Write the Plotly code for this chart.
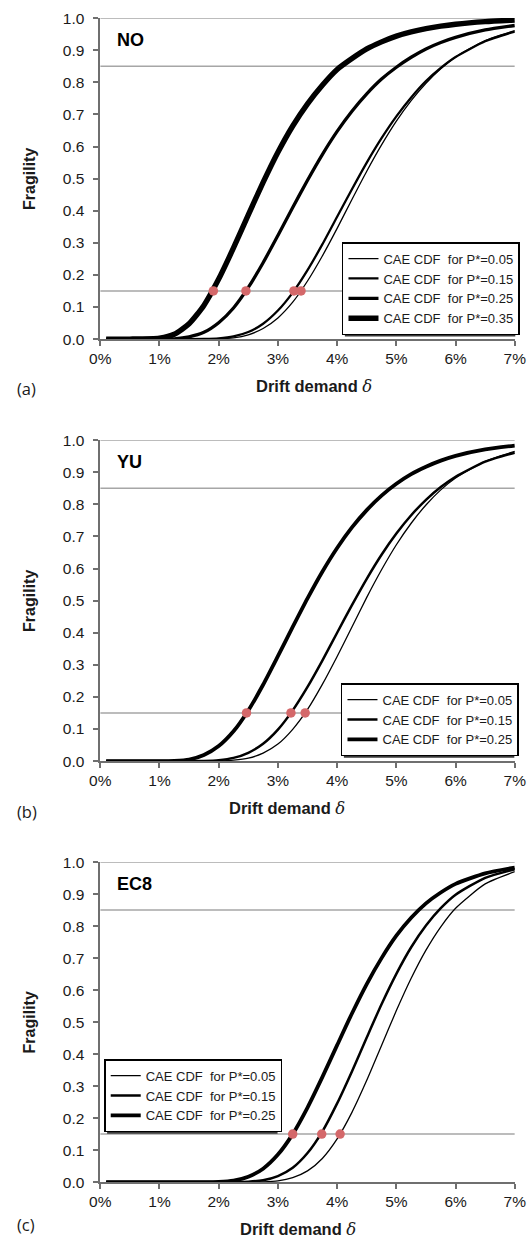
import plotly.graph_objects as go

# Drift demand grid (%), shared by all fragility curves
DRIFT = [0.1, 0.5, 1.0, 1.25, 1.5, 1.75, 2.0, 2.25, 2.5, 2.75, 3.0, 3.25, 3.5,
         3.75, 4.0, 4.25, 4.5, 4.75, 5.0, 5.25, 5.5, 5.75, 6.0, 6.5, 7.0]

# Panel (a) - NO
NO_P005 = [0, 0, 0, 0, 0, 0.0002, 0.001, 0.004, 0.0135, 0.033, 0.066, 0.115, 0.181,
           0.259, 0.345, 0.435, 0.523, 0.605, 0.679, 0.743, 0.797, 0.842, 0.879, 0.930, 0.961]
NO_P015 = [0, 0, 0, 0, 0, 0.0005, 0.0024, 0.0083, 0.022, 0.048, 0.089, 0.145, 0.215,
           0.295, 0.381, 0.467, 0.550, 0.626, 0.694, 0.753, 0.804, 0.845, 0.879, 0.928, 0.958]
NO_P025 = [0, 0, 0, 0.001, 0.007, 0.021, 0.051, 0.097, 0.161, 0.238, 0.323, 0.410, 0.495,
           0.575, 0.647, 0.710, 0.764, 0.810, 0.847, 0.878, 0.904, 0.924, 0.940, 0.963, 0.977]
NO_P035 = [0, 0, 0.003, 0.015, 0.048, 0.105, 0.187, 0.284, 0.387, 0.488, 0.582, 0.664, 0.733,
           0.791, 0.840, 0.874, 0.904, 0.926, 0.944, 0.957, 0.967, 0.975, 0.981, 0.989, 0.994]
NO_DOTS = [3.39, 3.27, 2.46, 1.91]

# Panel (b) - YU
YU_P005 = [0, 0, 0, 0, 0, 0, 0.0006, 0.003, 0.009, 0.025, 0.053, 0.099, 0.161,
           0.239, 0.326, 0.418, 0.510, 0.596, 0.674, 0.741, 0.798, 0.845, 0.882, 0.934, 0.965]
YU_P015 = [0, 0, 0, 0, 0, 0.0006, 0.003, 0.010, 0.026, 0.054, 0.098, 0.158, 0.231,
           0.313, 0.400, 0.486, 0.568, 0.643, 0.709, 0.766, 0.814, 0.854, 0.886, 0.933, 0.961]
YU_P025 = [0, 0, 0, 0.001, 0.005, 0.019, 0.047, 0.093, 0.158, 0.238, 0.327, 0.418, 0.507,
           0.590, 0.664, 0.728, 0.782, 0.827, 0.864, 0.894, 0.917, 0.936, 0.951, 0.971, 0.983]
YU_DOTS = [3.46, 3.22, 2.47]

# Panel (c) - EC8
EC8_P005 = [0, 0, 0, 0, 0, 0, 0, 0, 0, 0.001, 0.004, 0.014, 0.035,
            0.074, 0.135, 0.218, 0.318, 0.427, 0.536, 0.637, 0.725, 0.798, 0.856, 0.932, 0.970]
EC8_P015 = [0, 0, 0, 0, 0, 0, 0, 0.0003, 0.0015, 0.006, 0.019, 0.045, 0.091,
            0.158, 0.246, 0.346, 0.452, 0.556, 0.651, 0.734, 0.802, 0.856, 0.898, 0.951, 0.978]
EC8_P025 = [0, 0, 0, 0, 0, 0, 0.001, 0.005, 0.017, 0.042, 0.086, 0.150, 0.233,
            0.328, 0.428, 0.527, 0.619, 0.700, 0.770, 0.826, 0.871, 0.905, 0.932, 0.965, 0.983]
EC8_DOTS = [4.05, 3.74, 3.25]

P_LEVELS = ["0.05", "0.15", "0.25", "0.35"]
THRESHOLDS = [0.15, 0.85, 1.0]
X_TICKS = [0, 1, 2, 3, 4, 5, 6, 7]
X_LABELS = ["0%", "1%", "2%", "3%", "4%", "5%", "6%", "7%"]

# Layout positions below are given in sheet units (a 531 x 1241 sheet); they are
# converted to figure pixels, accounting for the page's 8px body margin and the
# sheet-to-page scale.
SX, SY = 0.960, 0.9863
BODY_MARGIN = 8
W, H = 537, 1242

FONT = "Liberation Sans, Arial, sans-serif"
GRAY = "#a6a6a6"
AXIS = "#6f6f6f"
DOT = "#d4686a"
INK = "#1a1a1a"
LEG_FONT = 13


def fx(u):
    return u / SX - BODY_MARGIN


def fy(v):
    return v / SY - BODY_MARGIN


def px_x(u):
    return fx(u) / W


def px_y(v):
    return 1 - fy(v) / H


panels = [
    dict(name="NO", tag="(a)", curves=[NO_P005, NO_P015, NO_P025, NO_P035], dots=NO_DOTS,
         top=17, bottom=338, legend="legend", title_x=311, tag_y=387,
         lw=[1.3, 2.3, 3.3, 5.4], leg_x=339, leg_y=241),
    dict(name="YU", tag="(b)", curves=[YU_P005, YU_P015, YU_P025], dots=YU_DOTS,
         top=439, bottom=760, legend="legend2", title_x=284, tag_y=810,
         lw=[1.3, 2.5, 3.8], leg_x=338, leg_y=682),
    dict(name="EC8", tag="(c)", curves=[EC8_P005, EC8_P015, EC8_P025], dots=EC8_DOTS,
         top=861, bottom=1181, legend="legend3", title_x=295, tag_y=1223,
         lw=[1.3, 2.5, 3.8], leg_x=101, leg_y=1058),
]

X0, X1 = 97, 512

fig = go.Figure()
layout = dict(width=W, height=H, margin=dict(l=0, r=0, t=0, b=0),
              paper_bgcolor="white", plot_bgcolor="white",
              font=dict(family=FONT, color=INK), showlegend=True)
annotations = []
shapes = []

legend_style = dict(bgcolor="white", bordercolor="black", borderwidth=1.5,
                    font=dict(size=LEG_FONT, family=FONT, color=INK),
                    xanchor="left", yanchor="top", tracegroupgap=0)

# legend box size as laid out by plotly: text + 30px key + gaps, rows of 1.3em + 3px
LEG_W = 9.98 * LEG_FONT + 48
LEG_ROW = max(1.3 * LEG_FONT, 16) + 3

for i, pnl in enumerate(panels):
    suffix = "" if i == 0 else str(i + 1)
    xa, ya = "x" + suffix, "y" + suffix
    # threshold lines
    for t in THRESHOLDS:
        fig.add_trace(go.Scatter(x=[0, 7], y=[t, t], mode="lines", xaxis=xa, yaxis=ya,
                                 line=dict(color=GRAY, width=1.5), showlegend=False,
                                 hoverinfo="skip"))
    # fragility curves
    for k, ys in enumerate(pnl["curves"]):
        fig.add_trace(go.Scatter(x=DRIFT, y=ys, mode="lines", xaxis=xa, yaxis=ya,
                                 line=dict(color="black", width=pnl["lw"][k], shape="spline",
                                           smoothing=0.6),
                                 name="CAE CDF\u00a0 for P*=" + P_LEVELS[k],
                                 legend=pnl["legend"]))
    # intersection markers with the 15% line
    fig.add_trace(go.Scatter(x=pnl["dots"], y=[0.15] * len(pnl["dots"]), mode="markers",
                             xaxis=xa, yaxis=ya, showlegend=False,
                             marker=dict(color=DOT, size=9.5)))

    dom_y = [px_y(pnl["bottom"]), px_y(pnl["top"])]
    layout["xaxis" + suffix] = dict(
        domain=[px_x(X0), px_x(X1)], range=[0, 7], anchor=ya,
        tickmode="array", tickvals=X_TICKS, ticktext=X_LABELS,
        showline=True, linecolor=AXIS, linewidth=1.5,
        ticks="outside", ticklen=5, tickcolor=AXIS, tickwidth=1.5, showgrid=False,
        zeroline=False, tickfont=dict(size=15.5, family=FONT, color=INK))
    layout["yaxis" + suffix] = dict(
        domain=dom_y, range=[0, 1], anchor=xa, dtick=0.1, tickformat=".1f",
        showline=True, linecolor=AXIS, linewidth=1.5, ticks="outside", ticklen=5,
        tickcolor=AXIS, tickwidth=1.5, showgrid=False, zeroline=False,
        ticklabelstandoff=6,
        tickfont=dict(size=15.5, family=FONT, color=INK))

    mid_y = (pnl["top"] + pnl["bottom"]) / 2
    annotations += [
        dict(text="<b>Fragility</b>", x=px_x(26), y=px_y(mid_y), xref="paper", yref="paper",
             xanchor="center", yanchor="middle", textangle=-90, showarrow=False,
             font=dict(size=16, family=FONT, color=INK)),
        dict(text="<b>Drift demand </b><i><span style='font-family:DejaVu Serif'>δ</span></i>",
             x=px_x(pnl["title_x"]), y=px_y(pnl["bottom"] + 47), xref="paper", yref="paper",
             xanchor="center", yanchor="middle", showarrow=False,
             font=dict(size=16.5, family=FONT, color=INK)),
        dict(text=pnl["tag"], x=px_x(12), y=px_y(pnl["tag_y"]), xref="paper",
             yref="paper", xanchor="left", yanchor="middle", showarrow=False,
             font=dict(size=16.5, family="Open Sans, sans-serif", color=INK)),
        dict(text="<b>" + pnl["name"] + "</b>", x=px_x(112), y=px_y(pnl["top"] + 22),
             xref="paper", yref="paper", xanchor="left", yanchor="middle", showarrow=False,
             font=dict(size=18, family=FONT, color="black")),
    ]

    # legend with a drop shadow offset down and to the right
    n_items = len(pnl["curves"])
    lx, ly = fx(pnl["leg_x"]), fy(pnl["leg_y"])
    lh = n_items * LEG_ROW + 13
    shapes.append(dict(type="rect", xref="paper", yref="paper", layer="above",
                       x0=(lx + 3) / W, x1=(lx + LEG_W + 3) / W,
                       y0=1 - (ly + lh + 3) / H, y1=1 - (ly + 3) / H,
                       fillcolor="#3a3a3a", line=dict(width=0)))
    layout[pnl["legend"]] = dict(legend_style, x=lx / W, y=1 - ly / H)

layout["annotations"] = annotations
layout["shapes"] = shapes
fig.update_layout(**layout)
fig.write_html("out.html")
